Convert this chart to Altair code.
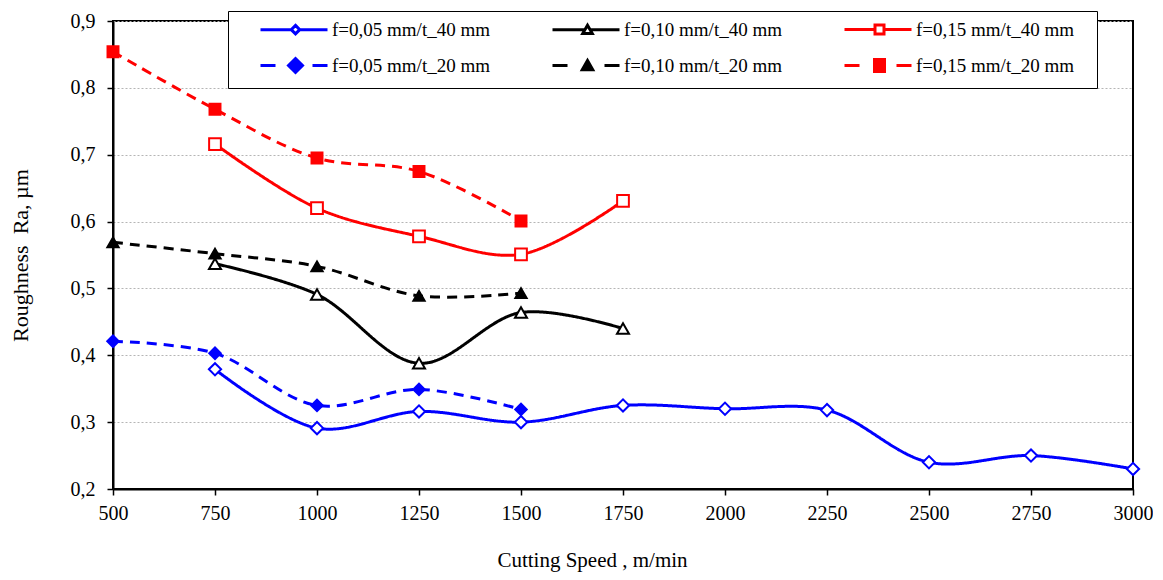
import altair as alt
import pandas as pd

# ---------------- data ----------------
series_names = [
    "f=0,05 mm/t_40 mm", "f=0,10 mm/t_40 mm", "f=0,15 mm/t_40 mm",
    "f=0,05 mm/t_20 mm", "f=0,10 mm/t_20 mm", "f=0,15 mm/t_20 mm",
]

speed_005_40 = [750, 1000, 1250, 1500, 1750, 2000, 2250, 2500, 2750, 3000]
ra_005_40 = [0.379, 0.291, 0.316, 0.300, 0.325, 0.320, 0.318, 0.240, 0.250, 0.230]

speed_010_40 = [750, 1000, 1250, 1500, 1750]
ra_010_40 = [0.537, 0.491, 0.388, 0.464, 0.440]

speed_015_40 = [750, 1000, 1250, 1500, 1750]
ra_015_40 = [0.716, 0.620, 0.578, 0.551, 0.631]

speed_20 = [500, 750, 1000, 1250, 1500]
ra_005_20 = [0.421, 0.403, 0.325, 0.349, 0.319]
ra_010_20 = [0.569, 0.552, 0.533, 0.489, 0.493]
ra_015_20 = [0.854, 0.768, 0.695, 0.675, 0.601]

x_ticks = [500, 750, 1000, 1250, 1500, 1750, 2000, 2250, 2500, 2750, 3000]
y_ticks = [0.2, 0.3, 0.4, 0.5, 0.6, 0.7, 0.8, 0.9]

rows = []
for name, xs, ys in [
    (series_names[0], speed_005_40, ra_005_40),
    (series_names[1], speed_010_40, ra_010_40),
    (series_names[2], speed_015_40, ra_015_40),
    (series_names[3], speed_20, ra_005_20),
    (series_names[4], speed_20, ra_010_20),
    (series_names[5], speed_20, ra_015_20),
]:
    for xv, yv in zip(xs, ys):
        rows.append({"series": name, "speed": xv, "ra": yv})
df = pd.DataFrame(rows)

# ---------------- styles ----------------
BLUE, BLACK, RED = "#0000ff", "#000000", "#ff0000"
line_colors = [BLUE, BLACK, RED, BLUE, BLACK, RED]
fill_colors = ["#ffffff", "#ffffff", "#ffffff", BLUE, BLACK, RED]
dashes = [[1, 0], [1, 0], [1, 0], [10, 7], [10, 7], [10, 7]]
shapes = ["diamond", "triangle-up", "square", "diamond", "triangle-up", "square"]
sizes = [150, 120, 80, 240, 125, 95]

FONT = "Liberation Serif"


def legend_path(marker, gap, dashed):
    # unit = 5 px (symbolSize 100)
    if dashed:
        line = "M-7,0 L-4,0 M3.4,0 L6.4,0"
    else:
        line = f"M-7,0 L-{gap},0 M{gap},0 L6.4,0"
    return line + " " + marker


diamond_o = "M0,-0.85 L0.85,0 L0,0.85 L-0.85,0 Z"
diamond_f = "M0,-1.4 L1.4,0 L0,1.4 L-1.4,0 Z"
tri_o = "M0,-0.9 L0.95,0.75 L-0.95,0.75 Z"
tri_f = "M0,-1.0 L1.05,0.85 L-1.05,0.85 Z"
sq_o = "M-0.9,-0.9 L0.9,-0.9 L0.9,0.9 L-0.9,0.9 Z"
sq_f = "M-1.0,-1.2 L1.0,-1.2 L1.0,1.2 L-1.0,1.2 Z"
legend_shapes = [
    legend_path(diamond_o, 0.85, False),
    legend_path(tri_o, 0.5, False),
    legend_path(sq_o, 0.9, False),
    legend_path(diamond_f, 1.4, True),
    legend_path(tri_f, 1.0, True),
    legend_path(sq_f, 1.0, True),
]

x_enc = alt.X(
    "speed:Q",
    scale=alt.Scale(domain=[500, 3000], nice=False, zero=False),
    axis=alt.Axis(
        values=x_ticks, format="d", title="Cutting Speed , m/min", grid=False,
        labelPadding=8, titlePadding=26, labelFlush=False, titleX=479,
    ),
)
y_enc = alt.Y(
    "ra:Q",
    scale=alt.Scale(domain=[0.2, 0.9], nice=False, zero=False),
    axis=alt.Axis(
        values=y_ticks,
        labelExpr="replace(format(datum.value, '.1f'), '.', ',')",
        title="Roughness\u00a0 Ra, µm", grid=True,
        gridColor="#b5b5b5", gridDash=[2, 2], gridWidth=1,
        labelPadding=12, titlePadding=38, labelFlush=False, titleFontSize=22,
    ),
)

color_scale = alt.Scale(domain=series_names, range=line_colors)
fill_scale = alt.Scale(domain=series_names, range=fill_colors)

lines = alt.Chart(df).mark_line(
    interpolate="catmull-rom", strokeWidth=3, clip=False
).encode(
    x=x_enc, y=y_enc,
    color=alt.Color("series:N", scale=color_scale, legend=None),
    strokeDash=alt.StrokeDash("series:N", scale=alt.Scale(domain=series_names, range=dashes), legend=None),
)

points = alt.Chart(df).mark_point(
    filled=True, opacity=1, strokeWidth=2, clip=False
).encode(
    x=x_enc, y=y_enc,
    fill=alt.Fill("series:N", scale=fill_scale, legend=None),
    stroke=alt.Stroke("series:N", scale=color_scale, legend=None),
    shape=alt.Shape("series:N", scale=alt.Scale(domain=series_names, range=shapes), legend=None),
    size=alt.Size("series:N", scale=alt.Scale(domain=series_names, range=sizes), legend=None),
)

leg = alt.Legend(
    orient="none", legendX=115, legendY=-10, columns=3, direction="horizontal", title=None,
    symbolSize=100, symbolStrokeWidth=3, symbolOffset=49,
    labelFont=FONT, labelFontSize=19, labelColor="black",
    labelOffset=27, labelLimit=400,
    labelExpr="datum.label + '\u2800'",
    columnPadding=25, rowPadding=12, padding=9,
    strokeColor="black", fillColor="white", zindex=1,
)

legend_layer = alt.Chart(df).transform_filter("false").mark_point(
    filled=True, opacity=1, strokeWidth=3
).encode(
    x=x_enc, y=y_enc,
    fill=alt.Fill("series:N", scale=fill_scale, legend=leg),
    stroke=alt.Stroke("series:N", scale=color_scale, legend=leg),
    shape=alt.Shape("series:N", scale=alt.Scale(domain=series_names, range=legend_shapes), legend=leg),
)

chart = alt.layer(lines, points, legend_layer).resolve_scale(
    fill="independent", stroke="independent", shape="independent", size="independent"
).properties(
    width=1020, height=468,
    autosize=alt.AutoSizeParams(type="none"),
    padding={"left": 105, "top": 13, "right": 20, "bottom": 83},
    background="white",
).configure_view(
    stroke="black", strokeWidth=2
).configure_axis(
    domainColor="black", domainWidth=2, tickColor="black", tickWidth=1.5, tickSize=6,
    labelFont=FONT, labelFontSize=20, labelColor="black",
    titleFont=FONT, titleFontSize=21, titleFontWeight="normal", titleColor="black",
)

chart.save("out.html", embed_options={"renderer": "svg", "actions": False})
